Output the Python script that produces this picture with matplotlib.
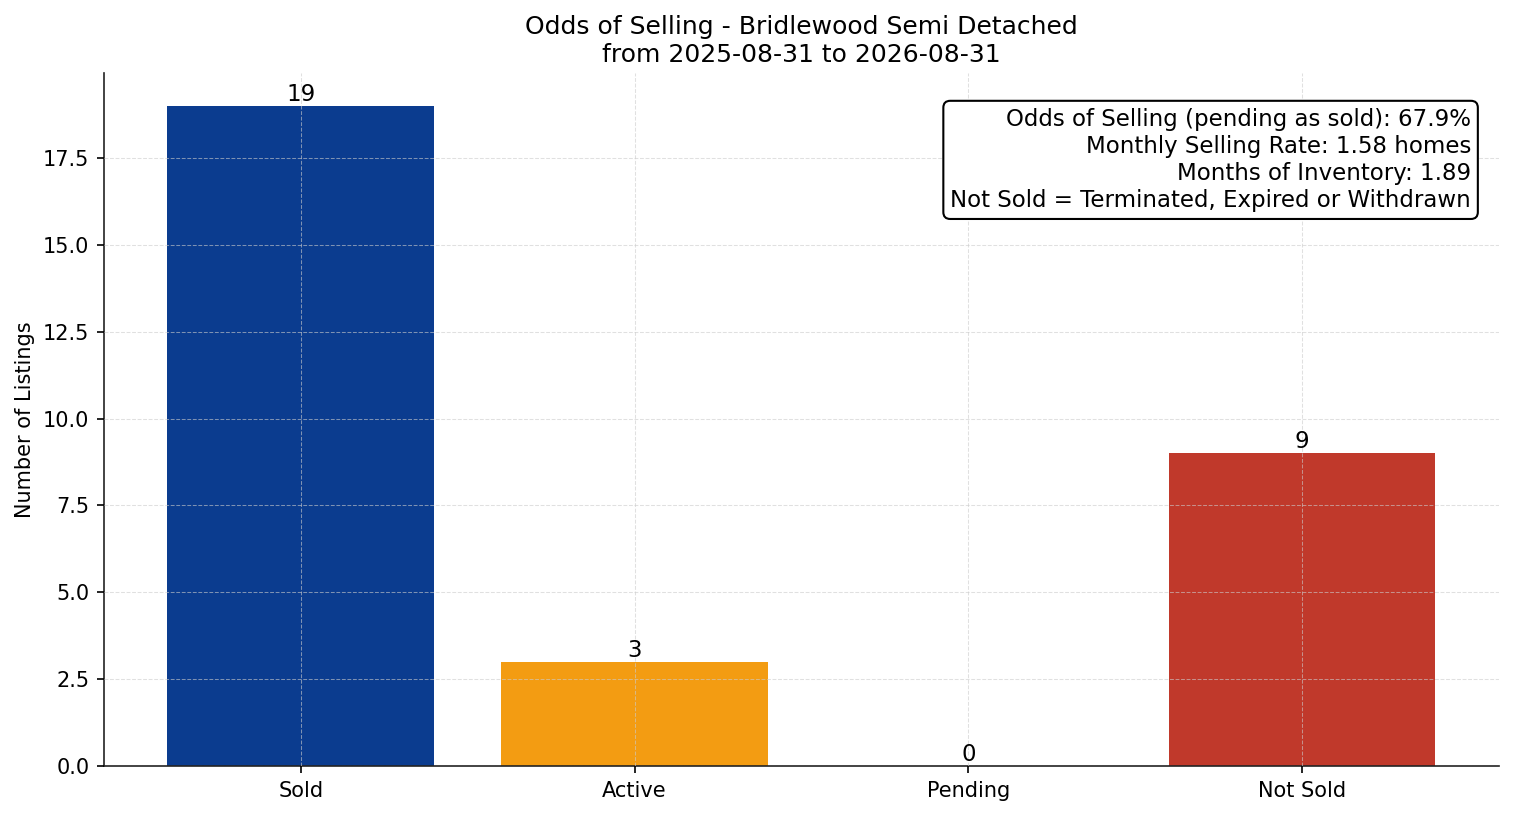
import matplotlib
matplotlib.use("Agg")
import matplotlib.pyplot as plt

# Data
categories = ['Sold', 'Active', 'Pending', 'Not Sold']
counts = [19, 3, 0, 9]
bar_colors = ['#0b3c8f', '#f39c12', '#7f8c8d', '#c0392b']

odds_pct = 67.9
monthly_rate = 1.58
months_inventory = 1.89

fig, ax = plt.subplots(figsize=(1514 / 150, 816 / 150), dpi=150)
fig.subplots_adjust(left=0.0687, right=0.990, top=0.9105, bottom=0.0613)

bars = ax.bar(categories, counts, color=bar_colors, width=0.8)
ax.bar_label(bars, labels=[str(c) for c in counts], fontsize=11, padding=0)

ax.set_title('Odds of Selling - Bridlewood Semi Detached\nfrom 2025-08-31 to 2026-08-31',
             fontsize=12, pad=5.5)
ax.set_ylabel('Number of Listings', fontsize=10)
ax.tick_params(labelsize=10)

ax.grid(True, linestyle='--', color='#cccccc', linewidth=0.5, alpha=0.6)
ax.set_axisbelow(False)

for side in ['top', 'right']:
    ax.spines[side].set_visible(False)
for side in ['left', 'bottom']:
    ax.spines[side].set_color('#222222')

info = (f'Odds of Selling (pending as sold): {odds_pct}%\n'
        f'Monthly Selling Rate: {monthly_rate} homes\n'
        f'Months of Inventory: {months_inventory}\n'
        'Not Sold = Terminated, Expired or Withdrawn')
ax.text(0.98, 0.95, info, transform=ax.transAxes, ha='right', va='top',
        fontsize=11, linespacing=1.23,
        bbox=dict(boxstyle='round,pad=0.3', facecolor='white', edgecolor='black', linewidth=1.0))

fig.savefig('out.png', dpi=150)
